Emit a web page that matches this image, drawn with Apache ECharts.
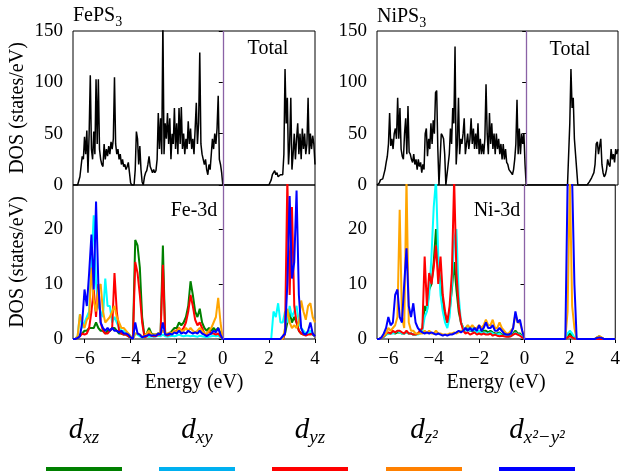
<!DOCTYPE html>
<html><head><meta charset="utf-8">
<script src="https://cdn.jsdelivr.net/npm/echarts@6/dist/echarts.min.js"></script>
<style>html,body{margin:0;padding:0;background:#fff}#c{width:623px;height:472px}</style>
</head><body><div id="c"></div><script>
// ---- data (energy in eV; total DOS sampled every 0.05 eV, 3d PDOS every 0.1 eV, both from -6.5 to 4.0) ----
const X_TICKS = [-6, -4, -2, 0, 2, 4];
const Y_TICKS_TOTAL = [0, 50, 100, 150];
const Y_TICKS_PDOS = [0, 10, 20];
const ORBITAL_LABELS = ['{d|d}{s|xz}', '{d|d}{s|xy}', '{d|d}{s|yz}', '{d|d}{s|z²}', '{d|d}{s|x²−y²}'];

const FE_TOTAL = [
0,0,0,0,0,0,8,9,28,25,
47,30,53,12,50,107,35,25,52,30,
103,40,103,35,25,20,18,40,25,35,
28,38,30,42,35,45,105,40,30,35,
25,30,20,25,18,20,15,18,22,12,
2,0,0,0,15,52,45,20,38,15,
3,0,8,12,14,20,28,18,15,12,
15,12,14,25,70,35,65,30,160,30,
60,45,70,40,65,25,50,40,75,35,
60,30,75,40,76,35,50,30,45,35,
62,40,55,35,45,30,55,80,40,60,
129,40,30,25,20,25,15,10,20,15,
30,45,35,50,40,55,87,25,20,12,
0,0,0,0,0,0,0,0,0,0,
0,0,0,0,0,0,0,0,0,0,
0,0,0,0,0,0,0,0,0,0,
0,0,0,0,0,0,0,0,0,0,
0,0,5,10,12,14,10,12,8,8,
10,9,10,30,113,60,85,20,40,85,
15,30,50,25,45,60,30,50,25,55,
35,50,30,40,85,30,50,35,48,40,
20];

const NI_TOTAL = [
0,0,2,5,5,6,6,15,22,28,
40,70,38,45,35,50,55,45,85,45,
75,35,28,25,50,65,30,77,32,30,
25,22,30,20,25,15,25,18,22,12,
20,15,50,55,28,45,35,60,40,63,
50,90,92,35,0,0,50,48,45,30,
0,0,20,30,55,40,75,60,135,20,
40,85,30,45,40,50,65,30,40,50,
35,45,65,40,55,35,50,35,60,30,
45,30,40,30,45,98,50,30,70,40,
60,35,50,30,50,35,45,30,40,25,
40,25,35,22,20,15,15,12,10,15,
25,40,83,30,55,30,50,40,50,20,
0,0,0,0,0,0,0,0,0,0,
0,0,0,0,0,0,0,0,0,0,
0,0,0,0,0,0,0,0,0,0,
0,0,0,0,0,0,0,0,60,113,
75,85,45,30,15,0,0,0,0,0,
0,0,0,0,0,3,5,7,8,12,
20,40,42,30,38,45,20,12,8,10,
15,25,20,18,35,25,30,22,35,30,
35];

const FE_DXZ = [
0,0,0.3,0.8,1,1.5,1.5,2,2,2,
3,2,1.5,1.5,1,1.5,1.5,2,2,1.5,
1,1,0.8,0.8,0.5,0.3,0,18,17,13,
4,0.5,1,2,1,0.8,0.8,1,1,17,
1,0.8,1,1.5,2,2,3,2.5,3,4,
6,10.5,8,5,4,5.5,3,2,1.5,2,
1.5,2,1.5,2,1,0,0,0,0,0,
0,0,0,0,0,0,0,0,0,0,
0,0,0,0,0,0,0,0,0,0,
0,0,1,3,5,3,4,3,1.5,1,
0.8,0.8,1,1,0.8,0.5];
const FE_DXY = [
0,0,0.5,4.5,2,3,4,5,14,22.5,
10,6,5,4,11,6,6,3,4,3,
2,1.5,1.5,1,1,0.5,0,1,0.8,0.5,
0.3,0.4,0.5,0.4,0.5,0.4,0.5,0.6,0.5,0.8,
0.5,0.4,0.5,0.6,0.5,0.6,0.8,0.6,0.5,0.6,
0.6,0.5,0.6,0.5,0.4,0.6,0.5,0.4,0.3,0.4,
0.5,0.6,0.5,0.6,0.3,0,0,0,0,0,
0,0,0,0,0,0,0,0,0,0,
0,0,0,0,0,0,0,5,4,6.5,
3,3,5,3,6,4,5,6,3,2,
1.5,1,1,1.5,1,0.5];
const FE_DYZ = [
0,0,0.2,0.5,1,0.8,1,2,5,9,
4,10,3,1.5,1,1,1.5,2,12,5,
1.5,1,0.8,0.8,0.5,0.3,0,14,12,8,
3,0.3,0.5,1,0.6,0.5,0.5,0.8,0.8,13.5,
0.8,0.6,0.8,1,1.5,1.5,2,1.5,2,3,
5,8,6,3.5,2.5,3,2,1,0.8,1.5,
1,1,0.8,1,0.5,0,0,0,0,0,
0,0,0,0,0,0,0,0,0,0,
0,0,0,0,0,0,0,0,0,0,
0,0,1,29,8,24,6,3,1.5,1,
0.8,0.6,0.8,0.8,1,0.5];
const FE_DZ2 = [
0,0,0.5,4.5,3,2,3.5,4,13,7,
5,9,10,5,3,3.5,4,5,6,4,
3,2,2,1.5,1,0.5,0,1,1,0.8,
0.5,0.5,1,1.5,0.8,0.8,0.8,1,1,1.5,
1,1,1.2,1,1.5,1.2,2,1.5,1.5,2,
1.5,2,1.5,1.2,1.5,2,1.5,1,1,1.5,
2,3,4,7.5,3,0,0,0,0,0,
0,0,0,0,0,0,0,0,0,0,
0,0,0,0,0,0,0,0,0,0,
0,0,2,5.5,3,2,2.5,2,3,7,
5,3.5,6,6.5,4,3];
const FE_DX2Y2 = [
0,0,0.2,0.5,3,9,6,12,19,9,
25,10,3,2,1.5,2,1.5,2,1.5,1.5,
1.2,1.5,1,1,0.8,0.3,0,3,1,0.8,
0.3,0.5,0.6,0.8,0.6,0.7,0.6,1,0.8,3,
0.8,0.8,1,0.8,1.2,1,1.5,1,1.2,1,
1.5,1.2,1,1.2,1,1.5,1,0.8,0.5,0.8,
1,1.5,1.2,2,0.8,0,0,0,0,0,
0,0,0,0,0,0,0,0,0,0,
0,0,0,0,0,0,0,0,0,0,
0,0.5,1,10,26,11,14,27,8,2,
1,0.8,1.5,3,1,0.5];

const NI_DXZ = [
0,0,0.2,0.4,0.8,1,1,1.2,1,1.2,
1.2,1,1,1.2,1,1,0.8,0.8,1,1.2,
2,6,5,9,10,14,20,14,10,7,
4,3,5,9,14,9,5,3,2,1.5,
2,1.5,1.5,1.5,1.2,1.5,1.2,1.5,1.5,1.2,
1.5,1.2,1,1,1.2,0.8,0.8,0.6,0.5,0.6,
1,1.5,1,1,0.5,0,0,0,0,0,
0,0,0,0,0,0,0,0,0,0,
0,0,0,0,0.5,1,0.5,0.2,0,0,
0,0,0,0,0,0,0,0.3,0.5,0.2,
0,0,0,0,0,0];
const NI_DXY = [
0,0,0.2,0.4,0.8,1,1,1,1.2,1.5,
1.2,1,1,1.2,1,1,0.8,0.8,0.8,1,
1.5,4,5,8,15,24,29,15,8,5,
3,2,4,10,18,20,8,3,2,1.5,
2.5,1.5,2,1.5,1.2,1.5,1,1.2,1,1,
1.2,1,0.8,0.8,1,0.6,0.6,0.5,0.4,0.5,
0.8,1.2,0.8,0.8,0.4,0,0,0,0,0,
0,0,0,0,0,0,0,0,0,0,
0,0,0,0,1,1.5,1,0.3,0,0,
0,0,0,0,0,0,0,0,0.2,0,
0,0,0,0,0,0];
const NI_DYZ = [
0,0,0.2,0.5,1,1.2,1,1.5,1.2,1.5,
1.5,1.2,1,1.5,1,1,0.8,0.8,1,1.5,
2,15,6,12,10,13,17,10,15,8,
5,3,6,12,29,12,6,3,1.5,1,
1.2,0.8,1,1.2,0.8,1,0.8,1,0.8,0.8,
1,0.6,0.8,0.6,0.5,0.6,0.5,0.4,0.4,0.5,
0.8,1,0.8,0.6,0.3,0,0,0,0,0,
0,0,0,0,0,0,0,0,0,0,
0,0,0,0,0.3,0.5,0.3,0.1,0,0,
0,0,0,0,0,0,0,0,0,0,
0,0,0,0,0,0];
const NI_DZ2 = [
0,0,0.3,0.6,1,2,1.5,2,2.5,4,
23.5,4,2,29,3,1.5,1.5,1,1,1,
1,1.5,1,1.5,1,1,1.5,1,1,0.8,
0.8,0.8,1,1,1.2,1,1.2,1.5,1.5,2,
2.5,2,2.5,2,2,2.5,2,2.5,3.5,2.5,
2.5,3.5,2,2,3,2,1.5,1,1,1.5,
2,4.5,3,3,1.5,0,0,0,0,0,
0,0,0,0,0,0,0,0,0,0,
0,0,0,0,5,29,6,2,0,0,
0,0,0,0,0,0,0,0.3,0.5,0.3,
0,0,0,0,0,0];
const NI_DX2Y2 = [
0,0,0.3,1,2,4,2.5,3,8,9,
4,3,10,16.5,6,4,6.5,3,2,1.5,
1.2,1,1.2,1,1.2,1,0.8,1,0.8,0.6,
0.8,0.6,0.8,0.8,1,1.2,1.5,1.2,1.5,2,
1.5,2,1.5,2,1.5,2.5,1.5,2,3,2,
2,2.5,1.5,1.5,2,1.5,1,0.8,0.8,1,
2,5,3,3.5,1.5,0,0,0,0,0,
0,0,0,0,0,0,0,0,0,0,
0,0,0,0,28.5,30,29,10,0,0,
0,0,0,0,0,0,0,0.2,0.3,0.2,
0,0,0,0,0,0];

// ---- sampling grids ----
const E_TOTAL = [], E_PDOS = [];
for (let i = 0; i < FE_TOTAL.length; i++) E_TOTAL.push(+(-6.5 + 0.05 * i).toFixed(2));
for (let i = 0; i < FE_DXZ.length; i++) E_PDOS.push(+(-6.5 + 0.1 * i).toFixed(1));

// ---- styling ----
const FONT = "'Liberation Serif', 'DejaVu Serif', serif";
const PD_COLORS = ['#008000', '#00ffff', '#ff0000', '#ffa500', '#0000ff'];
const LEGEND_COLORS = ['#008000', '#00b0f0', '#ff0000', '#ff8000', '#0000ff'];
const PURPLE = '#8a62a6';

const pairs = (xs, ys) => ys.map((v, i) => [xs[i], v]);
const fmt = v => (v < 0 ? '\u2212' + Math.abs(v) : String(v));

const grids = [
  { left: 73, top: 31, width: 242, height: 154 },
  { left: 73, top: 185, width: 242, height: 154 },
  { left: 377, top: 31, width: 241, height: 154 },
  { left: 377, top: 185, width: 241, height: 154 }
].map(g => Object.assign(g, { show: true, borderColor: '#000', borderWidth: 1, backgroundColor: 'transparent' }));

const xAxes = [0, 1, 2, 3].map(i => {
  const bottom = (i % 2 === 1);
  return {
    gridIndex: i, type: 'value', min: -6.5, max: 4,
    axisLine: { show: false }, splitLine: { show: false },
    axisTick: { show: bottom, customValues: X_TICKS, length: 4, lineStyle: { color: '#000', width: 1 } },
    axisLabel: { show: bottom, customValues: X_TICKS, formatter: fmt, fontFamily: FONT, fontSize: 19, color: '#000', margin: 11 },
    name: bottom ? 'Energy (eV)' : '', nameLocation: 'middle', nameGap: 34,
    nameTextStyle: { fontFamily: FONT, fontSize: 20, color: '#000' }
  };
});
const yAxes = [0, 1, 2, 3].map(i => {
  const pd = (i % 2 === 1), left = i < 2;
  const ticks = pd ? Y_TICKS_PDOS : Y_TICKS_TOTAL;
  return {
    gridIndex: i, type: 'value', min: 0, max: pd ? 28 : 150,
    axisLine: { show: false }, splitLine: { show: false },
    axisTick: { show: true, customValues: ticks, length: 4, lineStyle: { color: '#000', width: 1 } },
    axisLabel: { customValues: ticks, fontFamily: FONT, fontSize: 19, color: '#000', margin: 10 },
    name: left ? 'DOS (states/eV)' : '', nameLocation: 'middle', nameGap: 45, nameRotate: 90,
    nameTextStyle: { fontFamily: FONT, fontSize: 20, color: '#000' }
  };
});

const mark = {
  silent: true, symbol: ['none', 'none'], label: { show: false }, animation: false,
  lineStyle: { color: PURPLE, width: 1.3, type: 'solid' }, data: [{ xAxis: 0 }]
};

const series = [];
function totalSeries(idx, vals) {
  series.push({
    type: 'line', xAxisIndex: idx, yAxisIndex: idx, data: pairs(E_TOTAL, vals),
    symbol: 'none', showSymbol: false, animation: false,
    lineStyle: { color: '#000', width: 1.5 }, itemStyle: { color: '#000' }, markLine: mark, z: 3
  });
}
function pdosSeries(idx, list) {
  list.forEach((vals, k) => {
    series.push({
      type: 'line', xAxisIndex: idx, yAxisIndex: idx, data: pairs(E_PDOS, vals),
      symbol: 'none', showSymbol: false, animation: false,
      lineStyle: { color: PD_COLORS[k], width: 2 }, itemStyle: { color: PD_COLORS[k] },
      markLine: k === 4 ? mark : undefined, z: 3
    });
  });
}
totalSeries(0, FE_TOTAL);
pdosSeries(1, [FE_DXZ, FE_DXY, FE_DYZ, FE_DZ2, FE_DX2Y2]);
totalSeries(2, NI_TOTAL);
pdosSeries(3, [NI_DXZ, NI_DXY, NI_DYZ, NI_DZ2, NI_DX2Y2]);

// ---- annotations & legend ----
const txt = (x, y, text, align, size) => ({
  type: 'text', x, y, silent: true,
  style: { text, fill: '#000', font: size + 'px ' + FONT, align, verticalAlign: 'middle' }
});
const titleRich = {
  a: { fontSize: 20, fontFamily: FONT, fill: '#000', lineHeight: 26 },
  b: { fontSize: 14, fontFamily: FONT, fill: '#000', lineHeight: 12, verticalAlign: 'bottom' }
};
const graphics = [
  { type: 'text', x: 73, y: 3, silent: true, style: { text: '{a|FePS}{b|3}', rich: titleRich, align: 'left', verticalAlign: 'top' } },
  { type: 'text', x: 377, y: 4, silent: true, style: { text: '{a|NiPS}{b|3}', rich: titleRich, align: 'left', verticalAlign: 'top' } },
  txt(268, 49, 'Total', 'center', 20),
  txt(570, 50, 'Total', 'center', 20),
  txt(194, 211, 'Fe-3d', 'center', 20),
  txt(497, 211, 'Ni-3d', 'center', 20)
];
const legendRich = {
  d: { fontSize: 29, fontStyle: 'italic', fontFamily: FONT, fill: '#000', lineHeight: 34 },
  s: { fontSize: 19, fontStyle: 'italic', fontFamily: FONT, fill: '#000', lineHeight: 17, verticalAlign: 'bottom' }
};
const LEG_X = [46, 159, 272, 386, 499];
ORBITAL_LABELS.forEach((lab, k) => {
  graphics.push({ type: 'rect', silent: true, shape: { x: LEG_X[k], y: 467, width: 76, height: 4 }, style: { fill: LEGEND_COLORS[k] } });
  graphics.push({ type: 'text', x: LEG_X[k] + 38, y: 413, silent: true, style: { text: lab, rich: legendRich, align: 'center', verticalAlign: 'top' } });
});

const chart = echarts.init(document.getElementById('c'), null, { renderer: 'canvas' });
chart.setOption({
  animation: false, backgroundColor: '#fff',
  grid: grids, xAxis: xAxes, yAxis: yAxes, series, graphic: graphics
});
</script></body></html>
